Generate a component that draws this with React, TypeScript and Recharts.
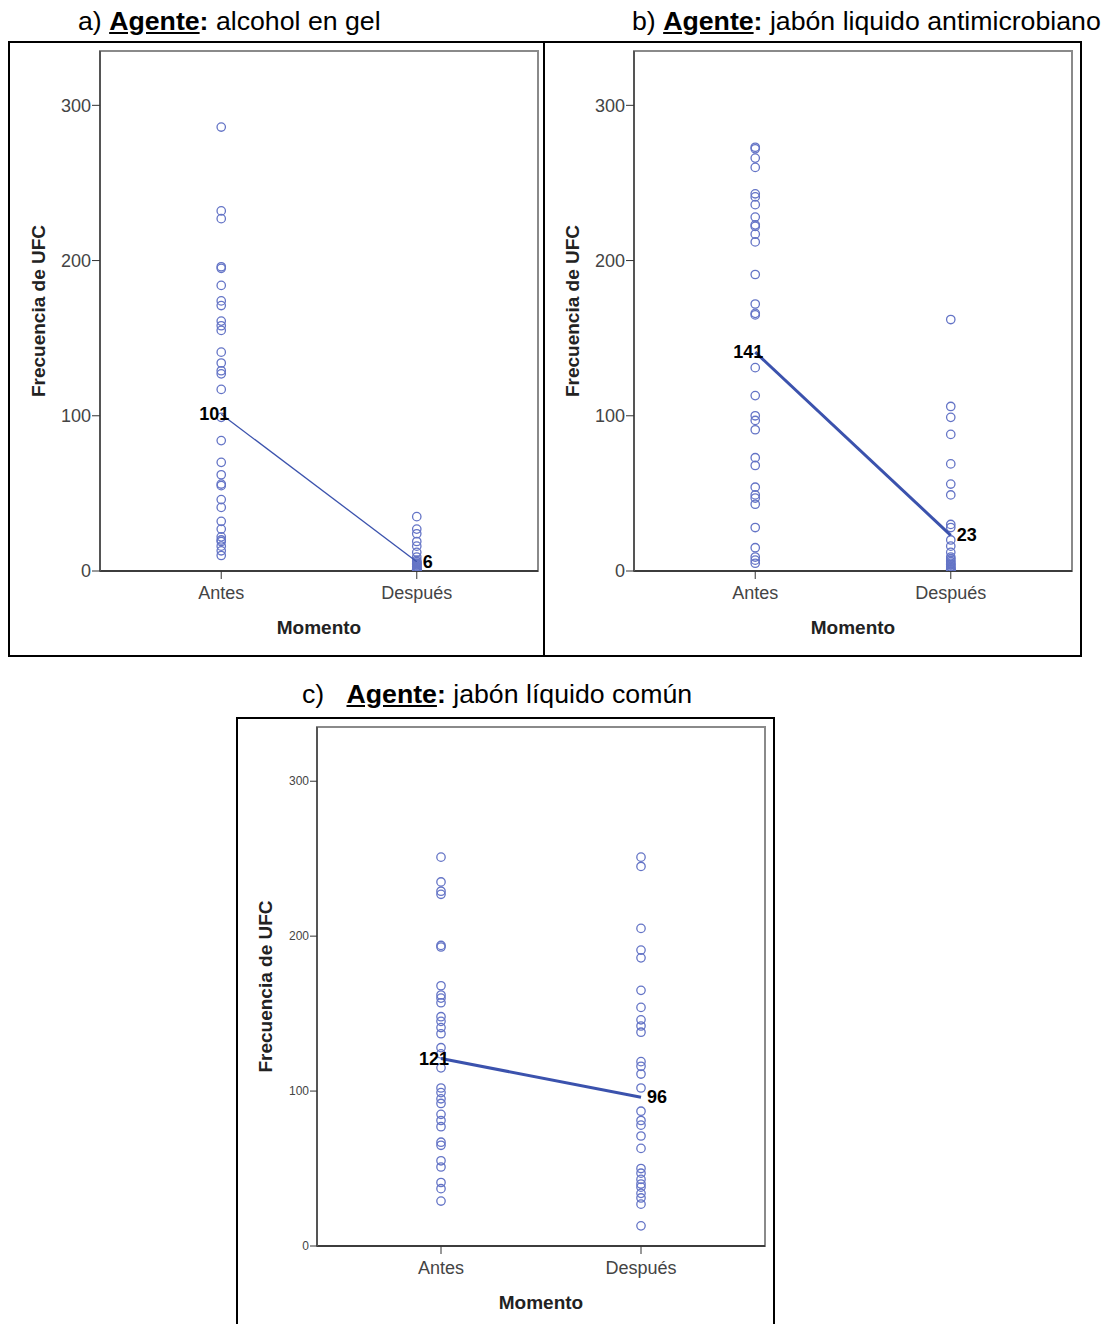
import React from "react";
import {
  ScatterChart,
  Scatter,
  XAxis,
  YAxis,
  ReferenceArea,
} from "recharts";

const categories = ["Antes", "Después"];
const yTicks = [0, 100, 200, 300];

// a) alcohol en gel
const alcoholAntes = [286, 232, 227, 196, 195, 184, 174, 171, 161, 158, 155, 141, 134, 129, 127, 117, 99, 84, 70, 62, 56, 55, 46, 41, 32, 27, 22, 20, 19, 16, 13, 10];
const alcoholDespues = [35, 27, 24, 19, 16, 12, 9, 7, 6, 5, 5, 4, 4, 3, 3, 2, 2, 1, 1, 1, 0, 0, 0];
const alcoholMedias = [101, 6];

// b) jabón liquido antimicrobiano
const antimicAntes = [273, 272, 266, 260, 243, 241, 236, 228, 223, 222, 217, 212, 191, 172, 166, 165, 131, 113, 100, 97, 91, 73, 68, 54, 49, 47, 43, 28, 15, 9, 7, 5];
const antimicDespues = [162, 106, 99, 88, 69, 56, 49, 30, 28, 20, 16, 12, 9, 8, 7, 6, 5, 4, 4, 3, 2, 2, 1, 1, 0, 0];
const antimicMedias = [141, 23];

// c) jabón líquido común
const comunAntes = [251, 235, 229, 227, 194, 193, 168, 162, 160, 157, 148, 145, 141, 137, 128, 124, 115, 102, 99, 95, 92, 85, 81, 77, 67, 65, 55, 51, 41, 37, 29];
const comunDespues = [251, 245, 205, 191, 186, 165, 154, 146, 142, 138, 119, 116, 111, 102, 87, 81, 78, 71, 63, 50, 47, 43, 40, 38, 34, 31, 27, 13];
const comunMedias = [121, 96];

const FONT = '"Liberation Sans", Arial, sans-serif';
const POINT = "#6474c6";
const LINE = "#3b52ad";
const X_DOMAIN: [number, number] = [0.38, 2.62];

const toPts = (vals: number[], x: number) => vals.map((y) => ({ x, y }));

const Circle = (p: any) => (
  <circle cx={p.cx} cy={p.cy} r={4.2} fill="none" stroke={POINT} strokeWidth={1.3} />
);

const MeanLabel = (p: any) => {
  const first = p.payload.x === 1;
  return (
    <text
      x={first ? p.cx + 8 : p.cx + 6}
      y={p.cy + 6}
      textAnchor={first ? "end" : "start"}
      fontSize={18}
      fontWeight="bold"
      fill="#000"
      fontFamily={FONT}
    >
      {p.payload.y}
    </text>
  );
};

type PanelProps = {
  antes: number[];
  despues: number[];
  medias: number[];
  width: number;
  height: number;
  margin: { top: number; right: number; bottom: number; left: number };
  yWidth: number;
  yTickSize: number;
  yFont: number;
  lineWidth: number;
};

function Panel(props: PanelProps) {
  const { antes, despues, medias, width, height, margin, yWidth, yTickSize, yFont, lineWidth } = props;
  const means = medias.map((y, i) => ({ x: i + 1, y }));
  return (
    <ScatterChart width={width} height={height} margin={margin}>
      <ReferenceArea
        x1={X_DOMAIN[0]}
        x2={X_DOMAIN[1]}
        y1={0}
        y2={335}
        fill="none"
        stroke="#8a8a8a"
        strokeWidth={2}
        ifOverflow="visible"
      />
      <XAxis
        type="number"
        dataKey="x"
        domain={X_DOMAIN}
        ticks={[1, 2]}
        allowDataOverflow
        tickFormatter={(v) => categories[v - 1]}
        height={63}
        tickSize={8}
        tickMargin={7}
        tickLine={{ stroke: "#333" }}
        axisLine={{ stroke: "#222", strokeWidth: 1.5 }}
        tick={{ fill: "#444", fontSize: 18, fontFamily: FONT }}
        label={{
          value: "Momento",
          position: "insideBottom",
          offset: 0,
          style: { fontWeight: "bold", fontSize: 19, fill: "#222", fontFamily: FONT },
        }}
      />
      <YAxis
        type="number"
        dataKey="y"
        domain={[0, 335]}
        ticks={yTicks}
        allowDataOverflow
        width={yWidth}
        tickSize={yTickSize}
        tickMargin={1}
        tickLine={{ stroke: "#333" }}
        axisLine={{ stroke: "#555", strokeWidth: 2 }}
        tick={{ fill: "#444", fontSize: yFont, fontFamily: FONT }}
        label={{
          value: "Frecuencia de UFC",
          angle: -90,
          position: "insideLeft",
          offset: 8,
          style: { textAnchor: "middle", fontWeight: "bold", fontSize: 19, fill: "#222", fontFamily: FONT },
        }}
      />
      <Scatter data={toPts(antes, 1)} shape={Circle} isAnimationActive={false} />
      <Scatter data={toPts(despues, 2)} shape={Circle} isAnimationActive={false} />
      <Scatter
        data={means}
        line={{ stroke: LINE, strokeWidth: lineWidth }}
        shape={MeanLabel}
        isAnimationActive={false}
      />
    </ScatterChart>
  );
}

const titleStyle: React.CSSProperties = {
  position: "absolute",
  fontFamily: FONT,
  fontSize: 26.7,
  lineHeight: "28px",
  whiteSpace: "pre",
  color: "#000",
};

const Agente = () => (
  <b>
    <u>Agente</u>:
  </b>
);

const box = (left: number, top: number, width: number, height: number): React.CSSProperties => ({
  position: "absolute",
  left,
  top,
  width,
  height,
  border: "2px solid #000",
  boxSizing: "border-box",
});

export default function App() {
  return (
    <div style={{ position: "relative", width: 1114, height: 1324, overflow: "hidden", background: "#fff" }}>
      <style>{"body{margin:0}"}</style>
      <div style={{ ...titleStyle, left: 78, top: 7 }}>
        a) <Agente /> alcohol en gel
      </div>
      <div style={{ ...titleStyle, left: 632, top: 7 }}>
        b) <Agente /> jabón liquido antimicrobiano
      </div>
      <div style={{ ...titleStyle, left: 302, top: 680 }}>
        {"c)   "}
        <Agente /> jabón líquido común
      </div>

      <div style={box(8, 41, 537, 616)} />
      <div style={box(543, 41, 539, 616)} />
      <div style={box(236, 717, 539, 620)} />

      <div style={{ position: "absolute", left: 9, top: 42 }}>
        <Panel
          antes={alcoholAntes}
          despues={alcoholDespues}
          medias={alcoholMedias}
          width={534}
          height={613}
          margin={{ top: 9, right: 5, bottom: 21, left: 21 }}
          yWidth={70}
          yTickSize={8}
          yFont={18}
          lineWidth={1.3}
        />
      </div>
      <div style={{ position: "absolute", left: 543, top: 42 }}>
        <Panel
          antes={antimicAntes}
          despues={antimicDespues}
          medias={antimicMedias}
          width={537}
          height={613}
          margin={{ top: 9, right: 8, bottom: 21, left: 21 }}
          yWidth={70}
          yTickSize={8}
          yFont={18}
          lineWidth={3}
        />
      </div>
      <div style={{ position: "absolute", left: 237, top: 718 }}>
        <Panel
          antes={comunAntes}
          despues={comunDespues}
          medias={comunMedias}
          width={537}
          height={606}
          margin={{ top: 9, right: 9, bottom: 15, left: 20 }}
          yWidth={60}
          yTickSize={7}
          yFont={12}
          lineWidth={3}
        />
      </div>
    </div>
  );
}
